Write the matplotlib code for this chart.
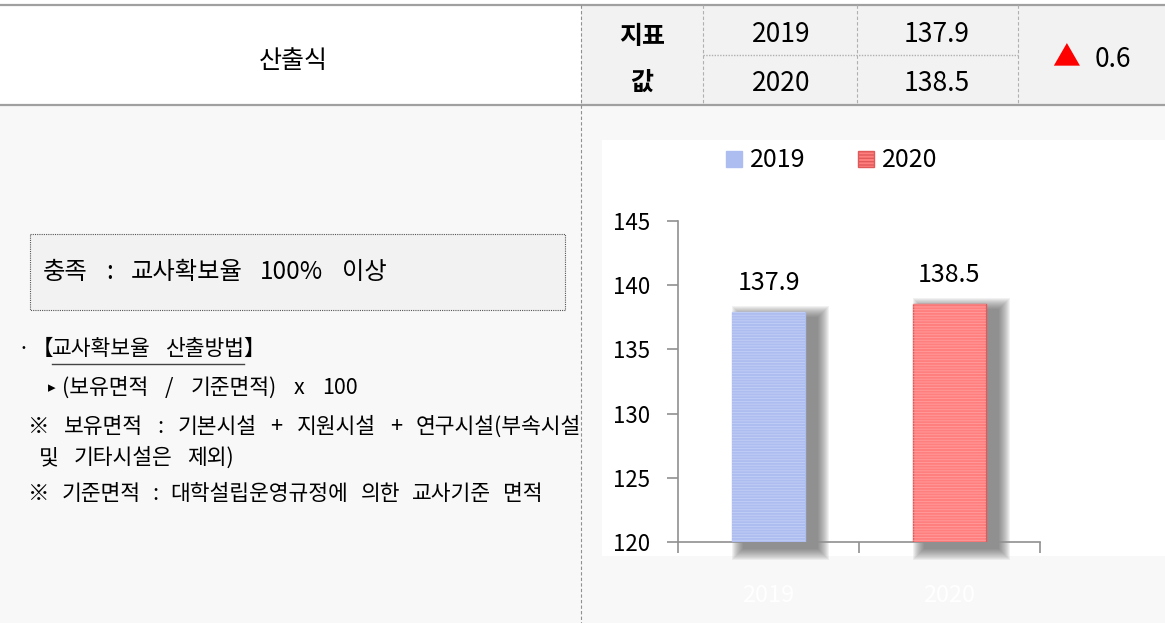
import matplotlib
matplotlib.use("Agg")
import matplotlib.pyplot as plt
from matplotlib.patches import Rectangle

plt.rcParams['font.family'] = ['Noto Sans CJK KR', 'DejaVu Sans']

# ---- data ----
years = ["2019", "2020"]
values = [137.9, 138.5]
change_label = "0.6"
y_ticks = [120, 125, 130, 135, 140, 145]
bar_colors = ["#adbdf0", "#ff7f7f"]
hatch_colors = ["#c3cff5", "#ff9e9e"]
edge_colors = ["#adbdf0", "#e05a5a"]

W, H = 1165, 623
fig = plt.figure(figsize=(W / 100, H / 100), dpi=100)
fig.patch.set_facecolor("white")
renderer = fig.canvas.get_renderer()

# background / layout axes in pixel coordinates
bg = fig.add_axes([0, 0, 1, 1], zorder=0)
bg.set_xlim(0, W)
bg.set_ylim(H, 0)
bg.axis("off")


def spaced(x, y, s, gap, **kw):
    """Draw words of s separated by a fixed pixel gap; return word extents."""
    ext = []
    for tok in s.split(" "):
        t = bg.text(x, y, tok, ha="left", va="center", **kw)
        bb = t.get_window_extent(renderer=renderer)
        ext.append((x, x + bb.width))
        x += bb.width + gap
    return ext


# body background
bg.add_patch(Rectangle((0, 105), W, H - 105, facecolor="#f8f8f8", edgecolor="none"))
# header right background
bg.add_patch(Rectangle((581, 5), W - 581, 100, facecolor="#f2f2f2", edgecolor="none"))
# chart white area with soft edges
for k in range(14):
    s = 28 * (1 - k / 14)
    bg.add_patch(Rectangle((602 - s, 140 - s), 600, 416 + 2 * s,
                           facecolor="white", edgecolor="none", alpha=0.09))
bg.add_patch(Rectangle((602, 140), 600, 416, facecolor="white", edgecolor="none"))

# header lines
bg.plot([0, W], [5, 5], color="#a0a0a0", lw=1.6)
bg.plot([0, W], [105, 105], color="#a0a0a0", lw=1.6)
bg.plot([581, 581], [5, H], color="#909090", lw=0.8, ls=(0, (3, 2)))
for x in [703, 857, 1018]:
    bg.plot([x, x], [5, 105], color="#b0b0b0", lw=0.8, ls=(0, (3, 2)))
bg.plot([703, 1018], [55, 55], color="#b0b0b0", lw=1.0, ls=(0, (1, 1)))

hfs = 19
bg.text(293, 68, "산출식", ha="center", va="baseline", fontsize=18)
bg.text(642, 44, "지표", ha="center", va="baseline", fontsize=18, fontweight="bold")
bg.text(642, 90, "값", ha="center", va="baseline", fontsize=18, fontweight="bold")
bg.text(781, 42, years[0], ha="center", va="baseline", fontsize=hfs)
bg.text(781, 91, years[1], ha="center", va="baseline", fontsize=hfs)
bg.text(937, 42, f"{values[0]:.1f}", ha="center", va="baseline", fontsize=hfs)
bg.text(937, 91, f"{values[1]:.1f}", ha="center", va="baseline", fontsize=hfs)
bg.text(1066, 58, "▲", ha="center", va="center", fontsize=20, color="#ff0000")
bg.text(1113, 67, change_label, ha="center", va="baseline", fontsize=hfs)

# criterion box
bg.add_patch(Rectangle((30, 234), 535, 76, facecolor="#f2f2f2", edgecolor="#555555",
                       lw=0.8, ls=(0, (1, 1))))
spaced(43, 272, "충족 : 교사확보율 100% 이상", 18, fontsize=17.5)

bfs = 15.5
bg.text(17, 349, "·", ha="left", va="center", fontsize=bfs)
bg.text(53, 349, "【", ha="right", va="center", fontsize=bfs)
ext = spaced(52, 349, "교사확보율 산출방법", 14, fontsize=bfs)
bg.text(ext[-1][1], 349, "】", ha="left", va="center", fontsize=bfs)
bg.plot([ext[0][0], ext[-1][1]], [364, 364], color="#444444", lw=1.0)

bg.text(48, 388, "▸", ha="left", va="center", fontsize=11)
spaced(62, 388, "(보유면적 / 기준면적) x 100", 17, fontsize=bfs)
spaced(28, 427, "※ 보유면적 : 기본시설 + 지원시설 + 연구시설(부속시설", 14.2,
       fontsize=bfs, style="italic")
spaced(39, 458, "및 기타시설은 제외)", 15, fontsize=bfs, style="italic")
spaced(28, 494, "※ 기준면적 : 대학설립운영규정에 의한 교사기준 면적", 12,
       fontsize=bfs, style="italic")

# legend (drawn in pixel coords)
lx = [726, 858]
for i in range(2):
    bg.add_patch(Rectangle((lx[i], 151), 16, 16, facecolor=bar_colors[i],
                           edgecolor=edge_colors[i], lw=1.0, hatch="-----"))
    bg.text(lx[i] + 24, 167, years[i], ha="left", va="baseline", fontsize=18)

# ---- chart axes ----
left, right, top, bottom = 678, 1040, 221, 542
ax = fig.add_axes([left / W, 1 - bottom / H, (right - left) / W, (bottom - top) / H], zorder=1)
ax.patch.set_alpha(0)
ax.set_xlim(-0.5, 1.5)
ax.set_ylim(120, 145)
xpx = 1 / 181.0
ypx = 25 / 321.0
bw = 0.4

x = list(range(len(years)))
# shadows
for i, v in enumerate(values):
    dx, dy, blur = 12 * xpx, 6 * ypx, 12
    n = 12
    for k in range(n):
        s = blur * (1 - k / n)
        ax.add_patch(Rectangle((x[i] - bw / 2 + dx - s * xpx, 120 - dy - s * ypx),
                               bw + 2 * s * xpx, (v - 120) + 2 * s * ypx,
                               facecolor="#555555", edgecolor="none", alpha=0.08,
                               clip_on=False, zorder=1))

plt.rcParams['hatch.linewidth'] = 0.6
for i, v in enumerate(values):
    ax.bar(x[i], v - 120, bottom=120, width=bw, color=bar_colors[i], edgecolor=edge_colors[i],
           linewidth=1.0, zorder=3)
    ax.bar(x[i], v - 120, bottom=120, width=bw, color="none", edgecolor=hatch_colors[i],
           linewidth=0, hatch="------", zorder=3)
    ax.text(x[i], v + 1.75, f"{v:.1f}", ha="center", va="baseline", fontsize=18)

for sp in ["top", "right"]:
    ax.spines[sp].set_visible(False)
for sp in ["left", "bottom"]:
    ax.spines[sp].set_color("#909090")
    ax.spines[sp].set_linewidth(1.2)

ax.set_yticks(y_ticks)
ax.set_yticklabels([str(t) for t in y_ticks], fontsize=16)
ax.tick_params(axis="y", direction="out", length=8, color="#909090", width=1.2, pad=12)
ax.set_xticks([-0.5, 0.5, 1.5])
ax.set_xticklabels(["", "", ""])
ax.tick_params(axis="x", which="major", direction="out", length=8, color="#909090", width=1.2)
ax.set_xticks(x, minor=True)
ax.set_xticklabels(years, minor=True, fontsize=17, color="white")
ax.tick_params(axis="x", which="minor", length=0, pad=30)

fig.savefig("out.png", dpi=100, facecolor=fig.get_facecolor())
